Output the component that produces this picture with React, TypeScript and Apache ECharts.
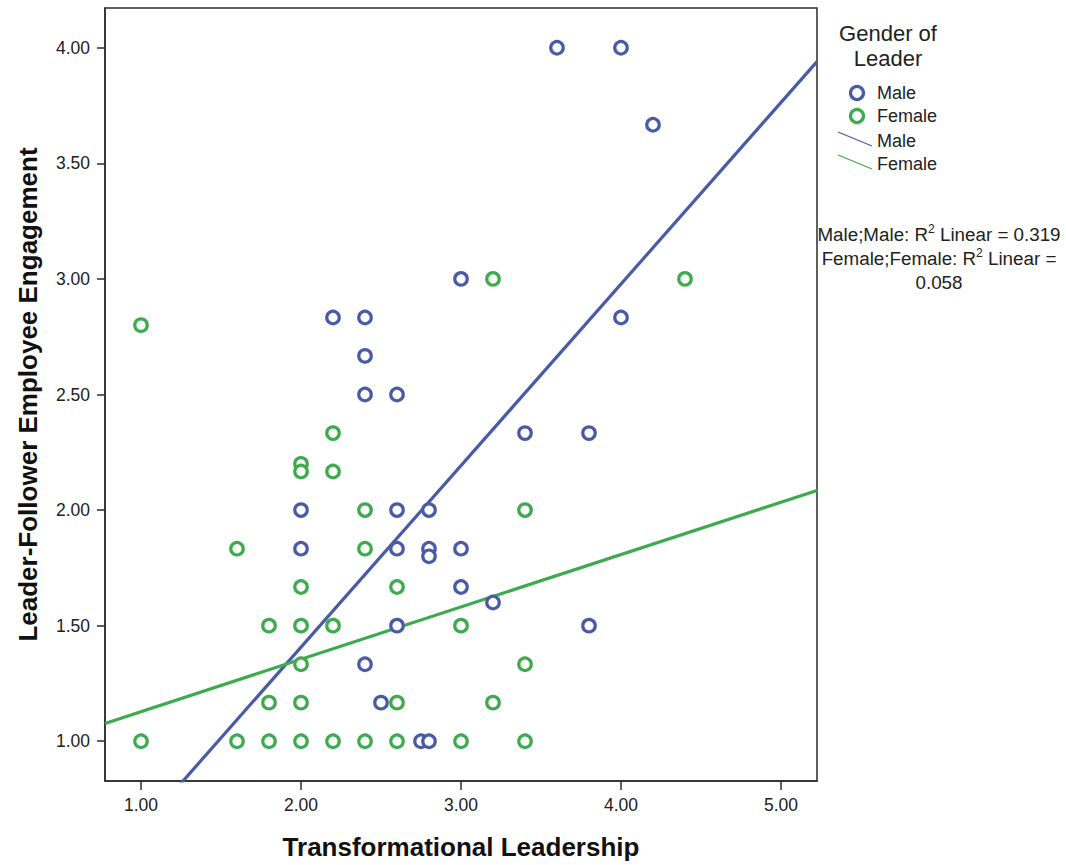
import React, { useEffect, useRef } from "react";
import * as echarts from "echarts";

// Data
const maleX = [3.6, 4.0, 4.2, 3.0, 4.0, 2.2, 2.4, 2.4, 2.4, 2.6, 3.4, 3.8, 2.0, 2.6, 2.8, 2.0, 2.6, 2.8, 2.8, 3.0, 3.0, 3.2, 2.6, 3.8, 2.4, 2.5, 2.75, 2.8];
const maleY = [4.0, 4.0, 3.667, 3.0, 2.833, 2.833, 2.833, 2.667, 2.5, 2.5, 2.333, 2.333, 2.0, 2.0, 2.0, 1.833, 1.833, 1.833, 1.8, 1.833, 1.667, 1.6, 1.5, 1.5, 1.333, 1.167, 1.0, 1.0];

const femaleX = [1.0, 1.0, 1.6, 1.6, 1.8, 1.8, 1.8, 2.0, 2.0, 2.0, 2.0, 2.0, 2.0, 2.0, 2.2, 2.2, 2.2, 2.2, 2.4, 2.4, 2.4, 2.6, 2.6, 2.6, 3.0, 3.0, 3.2, 3.2, 3.4, 3.4, 3.4, 4.4];
const femaleY = [2.8, 1.0, 1.833, 1.0, 1.5, 1.167, 1.0, 2.2, 2.167, 1.667, 1.5, 1.333, 1.167, 1.0, 2.333, 2.167, 1.5, 1.0, 2.0, 1.833, 1.0, 1.667, 1.167, 1.0, 1.5, 1.0, 3.0, 1.167, 2.0, 1.333, 1.0, 3.0];

// Fit line end points
const maleFitX = [0.775, 5.225];
const maleFitY = [0.445, 3.94];
const femaleFitX = [0.775, 5.225];
const femaleFitY = [1.077, 2.085];

const xTicks = [1, 2, 3, 4, 5];
const yTicks = [1.0, 1.5, 2.0, 2.5, 3.0, 3.5, 4.0];

const BLUE = "#4a5ba6";
const GREEN = "#3eaa4e";
const FONT = "Liberation Sans, Arial, sans-serif";

const zip = (a: number[], b: number[]) => a.map((v, i) => [v, b[i]]);

export default function App() {
  const ref = useRef<HTMLDivElement>(null);
  useEffect(() => {
    if (!ref.current) return;
    const chart = echarts.init(ref.current, undefined, { renderer: "svg" });
    const markerStyle = (c: string) => ({ color: "#ffffff", borderColor: c, borderWidth: 3.2, opacity: 1 });
    const sup = { fontSize: 12, verticalAlign: "top", padding: [0, 0, 10, 0], fill: "#222", fontFamily: FONT };
    chart.setOption({
      animation: false,
      backgroundColor: "#ffffff",
      textStyle: { fontFamily: FONT },
      grid: { left: 105, top: 8, right: 249, bottom: 80, show: true, borderColor: "#2b2b2b", borderWidth: 1.5, backgroundColor: "transparent" },
      xAxis: {
        type: "value",
        min: 0.775,
        max: 5.225,
        name: "Transformational Leadership",
        nameLocation: "middle",
        nameGap: 53,
        nameTextStyle: { fontSize: 26, fontWeight: "bold", color: "#111", fontFamily: FONT },
        axisLine: { show: true, lineStyle: { color: "#2b2b2b", width: 1.5 } },
        axisTick: { show: true, length: 9, lineStyle: { color: "#2b2b2b", width: 1.5 }, customValues: xTicks },
        axisLabel: { color: "#222", fontSize: 17.5, margin: 15, customValues: xTicks, formatter: (v: number) => v.toFixed(2) },
        splitLine: { show: false },
      },
      yAxis: {
        type: "value",
        min: 0.828,
        max: 4.172,
        name: "Leader-Follower Employee Engagement",
        nameLocation: "middle",
        nameGap: 64,
        nameRotate: 90,
        nameTextStyle: { fontSize: 26, fontWeight: "bold", color: "#111", fontFamily: FONT },
        axisLine: { show: true, lineStyle: { color: "#2b2b2b", width: 1.5 } },
        axisTick: { show: true, length: 8, lineStyle: { color: "#2b2b2b", width: 1.5 }, customValues: yTicks },
        axisLabel: { color: "#222", fontSize: 17.5, margin: 15, customValues: yTicks, formatter: (v: number) => v.toFixed(2) },
        splitLine: { show: false },
      },
      series: [
        {
          name: "MaleFit",
          type: "line",
          data: zip(maleFitX, maleFitY),
          showSymbol: false,
          clip: true,
          lineStyle: { color: BLUE, width: 3.2 },
          z: 1,
        },
        {
          name: "FemaleFit",
          type: "line",
          data: zip(femaleFitX, femaleFitY),
          showSymbol: false,
          clip: true,
          lineStyle: { color: GREEN, width: 3.2 },
          z: 1,
        },
        {
          name: "Male",
          type: "scatter",
          data: zip(maleX, maleY),
          symbol: "circle",
          symbolSize: 12.5,
          itemStyle: markerStyle(BLUE),
          z: 3,
        },
        {
          name: "Female",
          type: "scatter",
          data: zip(femaleX, femaleY),
          symbol: "circle",
          symbolSize: 12.5,
          itemStyle: markerStyle(GREEN),
          z: 3,
        },
      ],
      graphic: [
        { type: "text", x: 888, y: 33, style: { text: "Gender of", fontSize: 22, fill: "#222", align: "center", verticalAlign: "middle", fontFamily: FONT } },
        { type: "text", x: 888, y: 58, style: { text: "Leader", fontSize: 22, fill: "#222", align: "center", verticalAlign: "middle", fontFamily: FONT } },
        { type: "circle", shape: { cx: 857, cy: 93, r: 6.5 }, style: { fill: "#fff", stroke: BLUE, lineWidth: 3.2 } },
        { type: "circle", shape: { cx: 857, cy: 116, r: 6.5 }, style: { fill: "#fff", stroke: GREEN, lineWidth: 3.2 } },
        { type: "line", shape: { x1: 838, y1: 132, x2: 872, y2: 146 }, style: { stroke: BLUE, lineWidth: 1.3 } },
        { type: "line", shape: { x1: 838, y1: 155, x2: 872, y2: 169 }, style: { stroke: GREEN, lineWidth: 1.3 } },
        { type: "text", x: 877, y: 93, style: { text: "Male", fontSize: 18, fill: "#222", verticalAlign: "middle", fontFamily: FONT } },
        { type: "text", x: 877, y: 116, style: { text: "Female", fontSize: 18, fill: "#222", verticalAlign: "middle", fontFamily: FONT } },
        { type: "text", x: 877, y: 141, style: { text: "Male", fontSize: 18, fill: "#222", verticalAlign: "middle", fontFamily: FONT } },
        { type: "text", x: 877, y: 164, style: { text: "Female", fontSize: 18, fill: "#222", verticalAlign: "middle", fontFamily: FONT } },
        {
          type: "text", x: 939, y: 234,
          style: { text: "Male;Male: R{s|2} Linear = 0.319", fontSize: 18.8, fill: "#222", align: "center", verticalAlign: "middle", fontFamily: FONT, rich: { s: sup } },
        },
        {
          type: "text", x: 939, y: 258,
          style: { text: "Female;Female: R{s|2} Linear =", fontSize: 18.8, fill: "#222", align: "center", verticalAlign: "middle", fontFamily: FONT, rich: { s: sup } },
        },
        { type: "text", x: 939, y: 282, style: { text: "0.058", fontSize: 18.8, fill: "#222", align: "center", verticalAlign: "middle", fontFamily: FONT } },
      ],
    });
    return () => chart.dispose();
  }, []);
  return <div ref={ref} style={{ position: "absolute", left: 0, top: 0, width: 1066, height: 865 }} />;
}
